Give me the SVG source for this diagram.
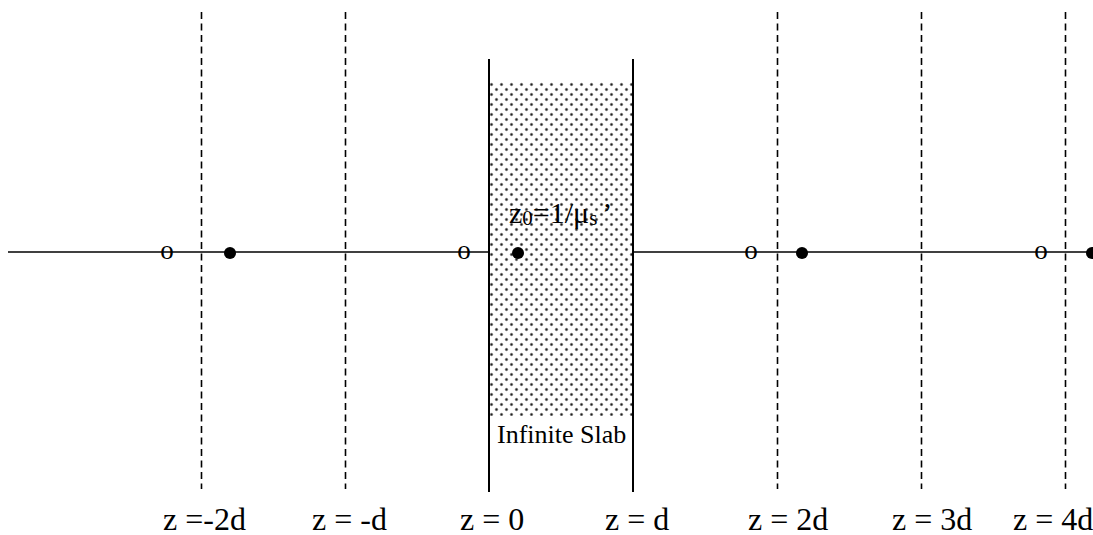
<svg xmlns="http://www.w3.org/2000/svg" width="1093" height="535" viewBox="0 0 1093 535">
  <style>
    .axis { stroke: #000; stroke-width: 1.6; fill: none; }
    .dash { stroke: #000; stroke-width: 1.6; stroke-dasharray: 7 4.5; fill: none; }
    .wall { stroke: #000; stroke-width: 2; fill: none; }
    .lbl { font-family: "Liberation Serif", "Times New Roman", serif; font-size: 32px; fill: #000; }
    .img { font-family: "Liberation Serif", "Times New Roman", serif; font-size: 27px; fill: #000; text-anchor: middle; }
    .src { fill: #000; }
    .t { font-family: "Liberation Serif", "Times New Roman", serif; fill: #000; }
  </style>
  <defs>
    <pattern id="dots" x="489" y="82" width="10" height="10" patternUnits="userSpaceOnUse">
      <circle cx="2.5" cy="2.5" r="1.7" fill="#999"/>
      <circle cx="2.5" cy="2.5" r="1.0" fill="#222"/>
      <circle cx="7.5" cy="7.5" r="1.7" fill="#999"/>
      <circle cx="7.5" cy="7.5" r="1.0" fill="#222"/>
    </pattern>
  </defs>
  <rect width="1093" height="535" fill="#fff"/>

  <g id="connectors">
    <line class="axis" x1="8" y1="252" x2="1093" y2="252"/>
    <line class="dash" x1="201.5" y1="12" x2="201.5" y2="489"/>
    <line class="dash" x1="345.5" y1="12" x2="345.5" y2="489"/>
    <line class="dash" x1="777.5" y1="12" x2="777.5" y2="489"/>
    <line class="dash" x1="921.5" y1="12" x2="921.5" y2="489"/>
    <line class="dash" x1="1065.5" y1="12" x2="1065.5" y2="489"/>
  </g>

  <g id="slab">
    <rect x="490" y="82" width="142" height="334" fill="#fff"/>
    <rect x="490" y="82" width="142" height="334" fill="url(#dots)"/>
    <line class="wall" x1="489" y1="59" x2="489" y2="492"/>
    <line class="wall" x1="633" y1="59" x2="633" y2="492"/>
    <text class="t" x="497" y="443" font-size="26">Infinite Slab</text>
  </g>

  <g id="z0-label">
    <text class="t" x="509" y="223" font-size="30">z<tspan font-size="21" dy="2">0</tspan><tspan dy="-2">=1/μ</tspan><tspan font-size="21" dy="2">s</tspan><tspan dx="5" dy="-2">’</tspan></text>
  </g>

  <g id="image-sources">
    <text class="img" x="167" y="259">o</text>
    <text class="img" x="464" y="259">o</text>
    <text class="img" x="751" y="259">o</text>
    <text class="img" x="1041" y="259">o</text>
  </g>

  <g id="sources">
    <circle class="src" cx="230" cy="253" r="6"/>
    <circle class="src" cx="518" cy="253" r="6"/>
    <circle class="src" cx="802" cy="253" r="6"/>
    <circle class="src" cx="1092" cy="253" r="6"/>
  </g>

  <g id="labels">
    <text class="lbl" x="163" y="530">z =-2d</text>
    <text class="lbl" x="312" y="530">z = -d</text>
    <text class="lbl" x="460" y="530">z = 0</text>
    <text class="lbl" x="605" y="530">z = d</text>
    <text class="lbl" x="748" y="530">z = 2d</text>
    <text class="lbl" x="892" y="530">z = 3d</text>
    <text class="lbl" x="1013" y="530">z = 4d</text>
  </g>
</svg>
